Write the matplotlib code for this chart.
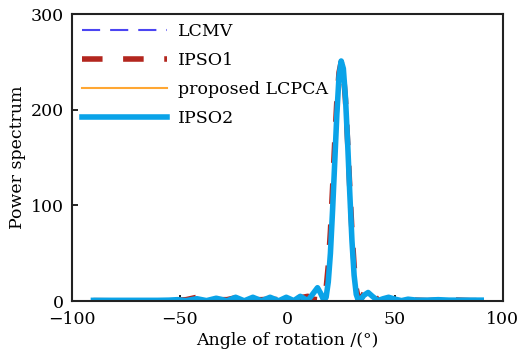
import numpy as np
import matplotlib
matplotlib.use("Agg")
import matplotlib.pyplot as plt

plt.rcParams['font.family'] = ['DejaVu Serif']
plt.rcParams['mathtext.fontset'] = 'dejavuserif'

# angles (deg)
angle = [-90, -80, -70, -60, -55, -51, -47, -42, -37.5, -33, -28, -24, -20, -16, -12,
         -8, -4, -0.5, 3, 6, 9.5, 12, 14, 15.5, 17, 18, 19, 20, 21, 22, 23, 24, 25, 26,
         27, 28, 29, 30, 31, 32, 33, 34, 35.5, 37.5, 39.5, 42, 44.5, 47, 50, 53, 56, 60,
         65, 70, 75, 80, 85, 90]

lcmv = [0.8, 0.8, 0.8, 0.8, 1.0, 1.5, 0.5, 2.5, 0.5, 3, 0.3, 4, 0.3, 4, 0.3,
        4, 0.3, 4, 0.5, 5, 0.5, 7, 13, 8, 0.5, 4, 20, 50, 95, 145, 196, 235, 251, 243,
        212, 165, 112, 63, 27, 7, 0.5, 1.5, 6, 9, 5, 0.5, 3, 5.5, 2, 0.5, 2, 1,
        1, 1.5, 1, 1, 1, 1]

ipso1 = [0.5, 0.3, 0.2, 0.3, 0.5, 1, 1.5, 4, 1, 1.5, 1.5, 3.5, 1, 1.5, 1.5,
         2, 1.5, 2.5, 1.5, 3.5, 5, 2, 1.5, 1, 2, 13, 37, 73, 118, 166, 210, 239, 250, 239,
         210, 166, 118, 73, 37, 13, 2, 1, 8, 15, 9, 1, 1, 2.5, 1.5, 0.5, 1, 1,
         0.5, 1, 1.5, 1, 0.5, 0.5]

lcpca = [0.8, 0.8, 0.8, 0.8, 1.0, 1.5, 0.5, 2.5, 0.5, 3, 0.3, 4, 0.3, 4, 0.3,
         4, 0.3, 4, 0.5, 5, 0.5, 8, 14, 8, 0.5, 4, 20, 50, 95, 145, 196, 235, 251, 243,
         212, 165, 112, 63, 27, 7, 0.5, 1.5, 6, 9, 5, 0.5, 2.5, 4, 2, 0.5, 2, 1,
         1, 1.5, 1, 1, 1, 1]

ipso2 = [0.8, 0.8, 0.8, 0.8, 1.0, 1.5, 0.5, 2.5, 0.5, 3, 0.3, 4, 0.3, 4, 0.3,
         4, 0.3, 4, 0.5, 5, 0.5, 8, 14, 8, 0.5, 4, 20, 50, 95, 145, 196, 235, 251, 243,
         212, 165, 112, 63, 27, 7, 0.5, 1.5, 6, 9, 5, 0.5, 2.5, 4, 2, 0.5, 2, 1,
         1, 1.5, 1, 1, 1, 1]

fig = plt.figure(figsize=(5.21, 3.53), dpi=100)
ax = fig.add_axes([0.138, 0.147, 0.827, 0.813])

ax.plot(angle, lcmv, color='#4b45f2', lw=1.5, dashes=(8.7, 4.8), label='LCMV')
ax.plot(angle, ipso1, color='#b3261e', lw=4, dashes=(3.7, 3.7), label='IPSO1')
ax.plot(angle, lcpca, color='#ffa733', lw=1.5, label='proposed LCPCA')
ax.plot(angle, ipso2, color='#0aa3e8', lw=4, label='IPSO2')

ax.set_xlim(-100, 100)
ax.set_ylim(0, 300)
ax.set_xticks([-100, -50, 0, 50, 100])
ax.set_yticks([0, 100, 200, 300])
ax.tick_params(direction='in', length=4, width=1.2, labelsize=12.5)
ax.tick_params(axis='y', pad=6)
ax.tick_params(axis='x', pad=7)
for s in ax.spines.values():
    s.set_linewidth(1.5)
    s.set_color('#222222')
ax.set_xlabel('Angle of rotation /(°)', fontsize=12.5, labelpad=3)
ax.set_ylabel('Power spectrum', fontsize=12.5, labelpad=3)

ax.legend(loc='upper left', frameon=False, fontsize=12.5, handlelength=4.9,
          borderaxespad=0.0, borderpad=0.5, labelspacing=0.7, handletextpad=0.6,
          bbox_to_anchor=(0.004, 1.0))

fig.savefig('out.png', dpi=100)
